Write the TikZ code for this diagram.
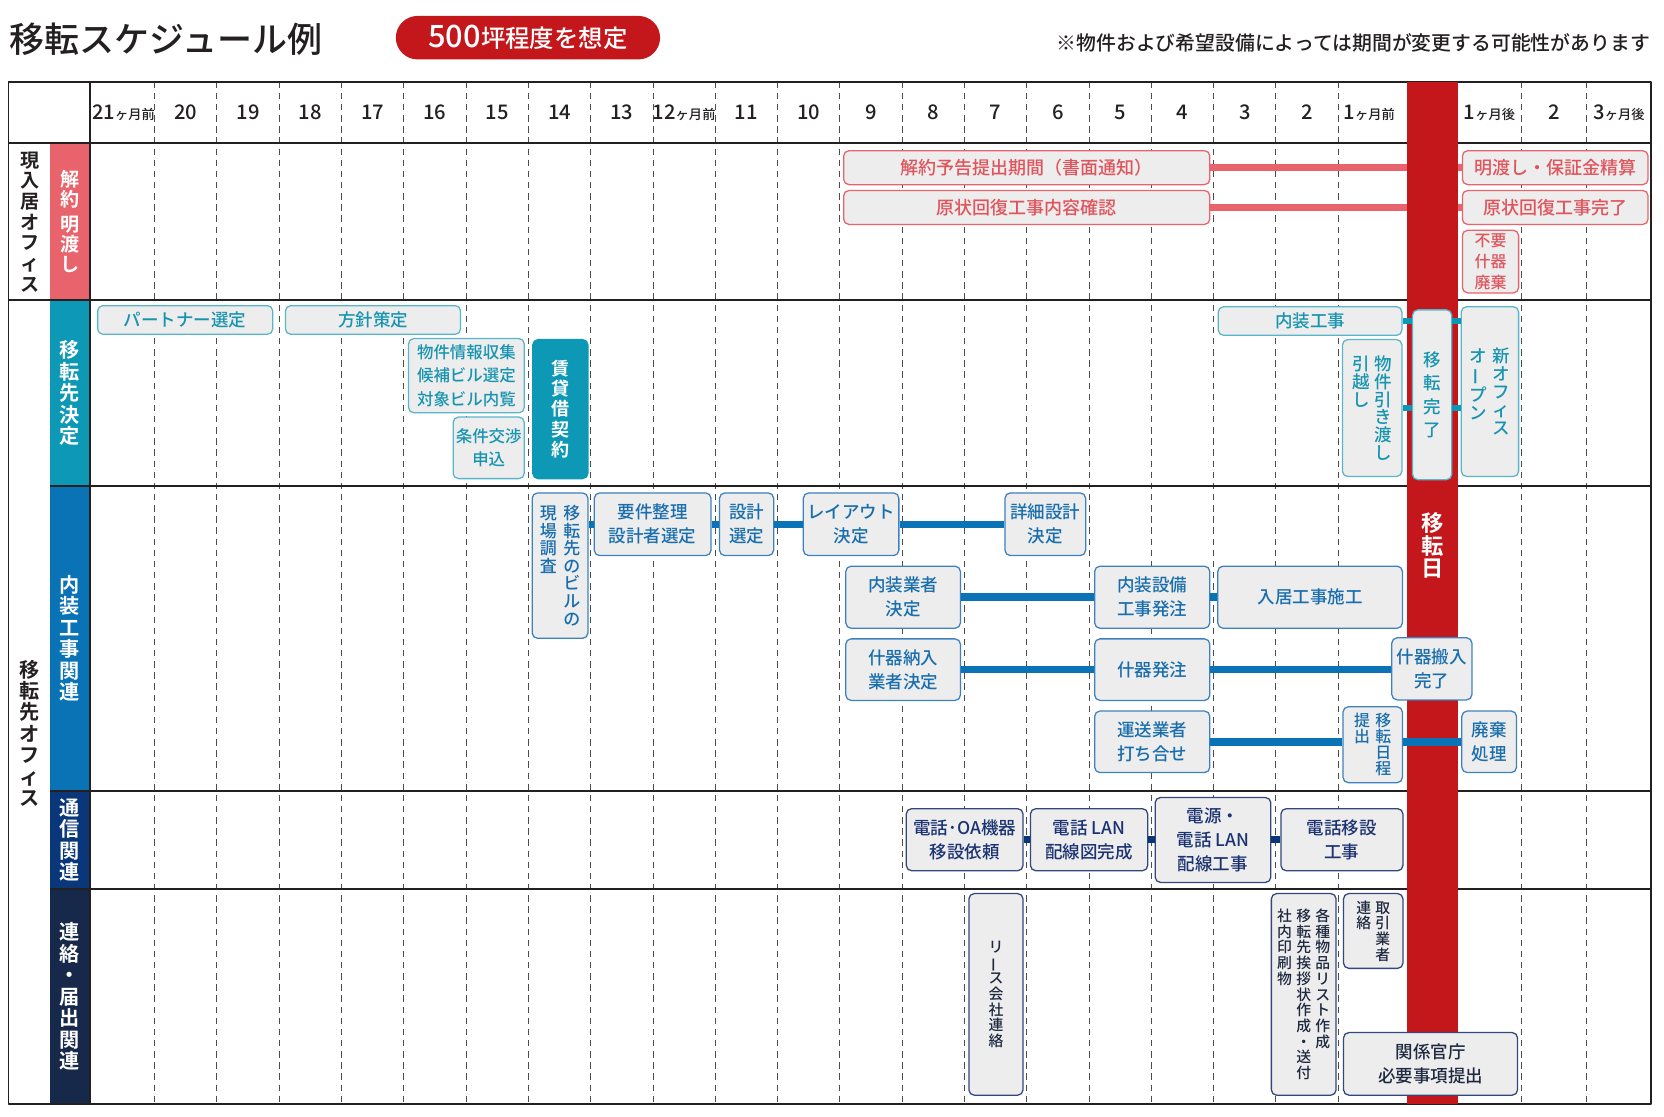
\documentclass[tikz,border=0pt]{standalone}
\usepackage{fontspec}
\IfFontExistsTF{Noto Sans CJK JP Medium}
  {\setmainfont{Noto Sans CJK JP Medium}[BoldFont={Noto Sans CJK JP Bold}]}
  {\setmainfont{Noto Sans CJK JP}[FakeBold=0.35]}
\definecolor{redday}{rgb}{0.77,0.09,0.11}
\definecolor{salmonband}{rgb}{0.91,0.39,0.42}
\definecolor{salmontext}{rgb}{0.88,0.33,0.36}
\definecolor{tealband}{rgb}{0.05,0.60,0.71}
\definecolor{tealline}{rgb}{0.35,0.71,0.79}
\definecolor{tealtext}{rgb}{0.09,0.58,0.69}
\definecolor{blueband}{rgb}{0.04,0.45,0.71}
\definecolor{blueline}{rgb}{0.24,0.51,0.75}
\definecolor{bluetext}{rgb}{0.10,0.43,0.68}
\definecolor{navyband}{rgb}{0.04,0.21,0.48}
\definecolor{navyline}{rgb}{0.20,0.28,0.48}
\definecolor{navytext}{rgb}{0.11,0.20,0.45}
\definecolor{darkband}{rgb}{0.09,0.16,0.29}
\definecolor{darktext}{rgb}{0.12,0.16,0.25}
\definecolor{boxgray}{rgb}{0.93,0.93,0.93}
\definecolor{inkblack}{rgb}{0.14,0.12,0.13}
\newcommand{\tatecol}[1]{\parbox[t]{1em}{\centering #1}}
\newcommand{\tatebar}{\rotatebox[origin=c]{90}{ー}}
\newcommand{\kagetsu}[1]{{\fontsize{12.5}{12.5}\selectfont ヶ月#1}}

\begin{document}
\begin{tikzpicture}[x=1pt,y=-1pt,line join=round,
  gridline/.style={color=black!70,line width=0.9pt,dash pattern=on 6pt off 4.5pt},
  rowline/.style={color=inkblack,line width=1.8pt},
  band/.style={minimum width=38,inner sep=0pt,text=white,align=center,font=\bfseries\fontsize{19}{20.2}\selectfont},
  grouplbl/.style={inner sep=0pt,text=inkblack,align=center,font=\bfseries\fontsize{18}{19.5}\selectfont},
  month/.style={inner sep=0pt,text=inkblack,font=\fontsize{19}{19}\selectfont},
  box/.style={draw,rounded corners=5pt,fill=boxgray,line width=1.2pt,inner sep=0pt,align=center,font=\fontsize{16.5}{22.5}\selectfont},
  boxred/.style={box,draw=salmonband,text=salmontext,font=\fontsize{17}{22.5}\selectfont},
  boxteal/.style={box,draw=tealline,text=tealtext},
  boxblue/.style={box,draw=blueline,text=bluetext},
  boxnavy/.style={box,draw=navyline,text=navytext},
  boxdark/.style={box,draw=navyline,text=darktext},
  linkline/.style={line width=7pt}]
\useasboundingbox (0,0) rectangle (1568,1052);
\node[anchor=west,inner sep=0pt,text=inkblack,font=\fontsize{33}{33}\selectfont] (title) at (9,37) {移転スケジュール例};
\node[fill=redday,rounded corners=20.5pt,minimum width=249,minimum height=41,inner sep=0pt,text=white] (pill) at (497.5,35.5) {{\fontsize{29}{29}\selectfont 500}\fontsize{23}{23}\selectfont 坪程度を想定};
\node[anchor=east,inner sep=0pt,text=inkblack,font=\fontsize{18.7}{19}\selectfont] (note) at (1555,40) {※物件および希望設備によっては期間が変更する可能性があります};
\node[band,fill=salmonband,minimum height=148,font=\bfseries\fontsize{18}{18.8}\selectfont] (bcur) at (66,209) {解\\約\\[5pt]明\\渡\\し};
\node[band,fill=tealband,minimum height=175] (bsel) at (66,370.5) {移\\転\\先\\決\\定};
\node[band,fill=blueband,minimum height=287] (bint) at (66,601.5) {内\\装\\工\\事\\関\\連};
\node[band,fill=navyband,minimum height=93] (bcom) at (66,791.5) {通\\信\\関\\連};
\node[band,fill=darkband,minimum height=202] (bnot) at (66,939) {連\\絡\\・\\届\\出\\関\\連};
\node[grouplbl] (gcur) at (28,209) {現\\入\\居\\オ\\フ\\ィ\\ス};
\node[grouplbl,font=\bfseries\fontsize{19}{20.2}\selectfont] (gnew) at (28,691) {移\\転\\先\\オ\\フ\\ィ\\ス};
\foreach \k in {1,...,20}
\draw[gridline] ({87+58.7*\k},77) -- ({87+58.7*\k},1040);
\foreach \xx in {1434,1495}
\draw[gridline] (\xx,77) -- (\xx,1040);
\draw[rowline] (8,77) rectangle (1556,1040);
\draw[rowline] (85,77) -- (85,1040);
\draw[rowline] (8,135) -- (1556,135);
\draw[rowline] (8,283) -- (1556,283);
\foreach \yy in {458,745,838}
\draw[rowline] (47,\yy) -- (1556,\yy);
\foreach \lbl [count=\i from 0] in {{21\kagetsu{前}},20,19,18,17,16,15,14,13,{12\kagetsu{前}},11,10,9,8,7,6,5,4,3,2,{1\kagetsu{前}}}
\node[month] (m\i) at ({87+58.7*(\i+0.5)},106) {\lbl};
\node[month] (a1) at (1403.5,106) {1\kagetsu{後}};
\node[month] (a2) at (1464.5,106) {2};
\node[month] (a3) at (1525.5,106) {3\kagetsu{後}};
\node[boxred,minimum width=345,minimum height=32] (notice) at (967.5,158) {解約予告提出期間（書面通知）};
\node[boxred,minimum width=345,minimum height=32] (check) at (967.5,195.5) {原状回復工事内容確認};
\node[boxred,minimum width=175,minimum height=32] (deposit) at (1465.5,158) {明渡し・保証金精算};
\node[boxred,minimum width=175,minimum height=32] (restored) at (1465.5,195.5) {原状回復工事完了};
\node[boxred,minimum width=53,minimum height=59,font=\fontsize{15}{19.6}\selectfont] (junk) at (1404.5,246.5) {不要\\什器\\廃棄};
\draw[linkline,salmonband] (notice.east) -- (deposit.west);
\draw[linkline,salmonband] (check.east) -- (restored.west);
\fill[redday] (1326,77) rectangle (1374,1040);
\node[inner sep=0pt,text=white,align=center,font=\bfseries\fontsize{21}{21.5}\selectfont] (moveday) at (1349.5,514) {移\\転\\日};
\node[boxteal,minimum width=165,minimum height=27] (partner) at (174.5,301.5) {パートナー選定};
\node[boxteal,minimum width=165,minimum height=27] (policy) at (351.5,301.5) {方針策定};
\node[boxteal,minimum width=109,minimum height=70,font=\fontsize{15.5}{22.3}\selectfont] (search) at (439.5,354) {物件情報収集\\候補ビル選定\\対象ビル内覧};
\node[boxteal,minimum width=67,minimum height=58,font=\fontsize{15.5}{21}\selectfont] (apply) at (460.5,422) {条件交渉\\申込};
\node[boxteal,fill=tealband,draw=tealband,text=white,minimum width=52,minimum height=131,font=\bfseries\fontsize{17}{19}\selectfont] (contract) at (528,385.5) {賃\\貸\\借\\契\\約};
\node[boxteal,minimum width=173,minimum height=27] (interior) at (1234.5,302.5) {内装工事};
\node[boxteal,minimum width=56,minimum height=129,font=\fontsize{16.5}{16.8}\selectfont] (moving) at (1293,384.5) {\tatecol{引\\越\\し}\hspace{5pt}\tatecol{物\\件\\引\\き\\渡\\し}};
\node[boxteal,minimum width=37,minimum height=160,font=\fontsize{16.5}{22}\selectfont] (done) at (1349.5,372) {移\\転\\完\\了};
\node[boxteal,minimum width=54,minimum height=160,font=\fontsize{16.5}{16.8}\selectfont] (open) at (1404,369) {\tatecol{オ\\\tatebar\\プ\\ン}\hspace{5pt}\tatecol{新\\オ\\フ\\ィ\\ス}};
\draw[linkline,line width=6pt,tealband] (interior.east) -- (interior.east -| done.west);
\draw[linkline,line width=6pt,tealband] (moving.east) -- (moving.east -| done.west);
\draw[linkline,line width=6pt,tealband] (done.east |- interior.east) -- (interior.east -| open.west);
\draw[linkline,line width=6pt,tealband] (done.east |- moving.east) -- (moving.east -| open.west);
\node[boxblue,minimum width=52.5,minimum height=137,font=\fontsize{16}{16.5}\selectfont] (survey) at (527.75,533) {\tatecol{現\\場\\調\\査}\hspace{6pt}\tatecol{移\\転\\先\\の\\ビ\\ル\\の}};
\node[boxblue,minimum width=110,minimum height=59] (needs) at (615,494) {要件整理\\設計者選定};
\node[boxblue,minimum width=51,minimum height=59] (designer) at (703.5,494) {設計\\選定};
\node[boxblue,minimum width=90,minimum height=59] (layout) at (802,494) {レイアウト\\決定};
\node[boxblue,minimum width=76,minimum height=59] (detail) at (985,494) {詳細設計\\決定};
\node[boxblue,minimum width=108,minimum height=58.5] (builder) at (851,562.75) {内装業者\\決定};
\node[boxblue,minimum width=108.5,minimum height=58.5] (facility) at (1085.75,562.75) {内装設備\\工事発注};
\node[boxblue,minimum width=174,minimum height=58.5] (fitout) at (1234.5,562.75) {入居工事施工};
\node[boxblue,minimum width=108,minimum height=58] (fvendor) at (851,631) {什器納入\\業者決定};
\node[boxblue,minimum width=108.5,minimum height=58] (forder) at (1085.75,631) {什器発注};
\node[boxblue,minimum width=75.5,minimum height=58.5] (fin) at (1349.25,630.25) {什器搬入\\完了};
\node[boxblue,minimum width=108.5,minimum height=58] (mover) at (1085.75,699) {運送業者\\打ち合せ};
\node[boxblue,minimum width=56,minimum height=71.5,font=\fontsize{15}{15.2}\selectfont] (plan) at (1293.5,701.75) {\tatecol{提\\出}\hspace{5pt}\tatecol{移\\転\\日\\程}};
\node[boxblue,minimum width=51.5,minimum height=58] (waste) at (1403.25,699) {廃棄\\処理};
\draw[linkline,blueband] (survey.east |- needs.west) -- (needs.west);
\draw[linkline,blueband] (needs.east) -- (designer.west);
\draw[linkline,blueband] (designer.east) -- (layout.west);
\draw[linkline,blueband] (layout.east) -- (detail.west);
\draw[linkline,blueband] (builder.east) -- (facility.west);
\draw[linkline,blueband] (facility.east) -- (fitout.west);
\draw[linkline,blueband] (fvendor.east) -- (forder.west);
\draw[linkline,blueband] (forder.east) -- (forder.east -| fin.west);
\draw[linkline,blueband] (mover.east) -- (mover.east -| plan.west);
\draw[linkline,blueband] (plan.east |- waste.west) -- (waste.west);
\node[boxnavy,minimum width=110,minimum height=58.5] (oa) at (909,791.25) {電話･OA機器\\移設依頼};
\node[boxnavy,minimum width=110.5,minimum height=58.5] (lanmap) at (1026.25,791.25) {電話 LAN\\配線図完成};
\node[boxnavy,minimum width=109,minimum height=80] (power) at (1143,791.5) {電源・\\電話 LAN\\配線工事};
\node[boxnavy,minimum width=115,minimum height=58.5] (phone) at (1264.5,791.25) {電話移設\\工事};
\draw[linkline,navyband] (oa.east) -- (lanmap.west);
\draw[linkline,navyband] (lanmap.east) -- (lanmap.east -| power.west);
\draw[linkline,navyband] (power.east |- phone.west) -- (phone.west);
\node[boxdark,minimum width=51,minimum height=190,font=\fontsize{14}{14.8}\selectfont] (leasecall) at (938.5,937) {リ\\\tatebar\\ス\\会\\社\\連\\絡};
\node[boxdark,minimum width=61,minimum height=190,font=\fontsize{14}{14.8}\selectfont] (goods) at (1228.5,937) {\tatecol{社\\内\\印\\刷\\物}\hspace{4pt}\tatecol{移\\転\\先\\挨\\拶\\状\\作\\成\\・\\送\\付}\hspace{4pt}\tatecol{各\\種\\物\\品\\リ\\ス\\ト\\作\\成}};
\node[boxdark,minimum width=56,minimum height=70.5,font=\fontsize{14}{14.8}\selectfont] (clients) at (1294,877.25) {\tatecol{連\\絡}\hspace{4pt}\tatecol{取\\引\\業\\者}};
\node[boxdark,minimum width=164,minimum height=59] (agency) at (1348,1002.5) {関係官庁\\必要事項提出};
\end{tikzpicture}
\end{document}
